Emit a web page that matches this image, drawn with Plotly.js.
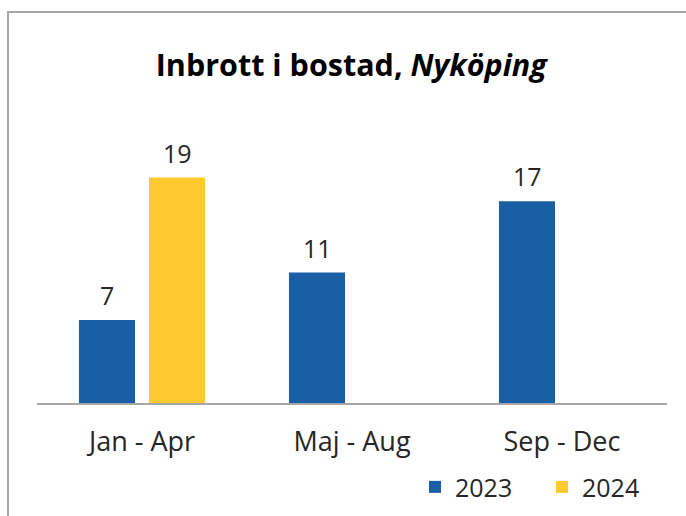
<!DOCTYPE html>
<html>
<head>
<meta charset="utf-8">
<script src="https://cdn.plot.ly/plotly-3.0.1.min.js"></script>
<style>
  html, body { margin: 0; padding: 0; background: #ffffff; }
  #wrap { position: relative; width: 686px; height: 516px; overflow: hidden; }
  #chart { width: 686px; height: 516px; }
  #frame { position: absolute; left: 7px; top: 11px; width: 700px; height: 540px;
           border: 2px solid #a6a6a6; pointer-events: none; box-sizing: border-box; }
</style>
</head>
<body>
<div id="wrap">
  <div id="chart"></div>
  <div id="frame"></div>
</div>
<script>
const categories = ["Jan - Apr", "Maj - Aug", "Sep - Dec"];
const seriesNames = ["2023", "2024"];
const values2023 = [7, 11, 17];
const values2024 = [19, null, null];
const seriesColors = ["#1a5fa5", "#ffca30"];

const allValues = [values2023, values2024];
const textColor = "#262626";
const fontFam = "'Open Sans', Lato, sans-serif";

const traces = allValues.map((vals, i) => ({
  type: "bar",
  name: seriesNames[i],
  x: categories,
  y: vals,
  marker: { color: seriesColors[i], line: { width: 0 } },
  hoverinfo: "skip"
}));

// data labels placed via axis scales
const offsets = [-35, 35];
const annotations = [];
allValues.forEach((vals, i) => {
  vals.forEach((v, j) => {
    if (v !== null && v !== undefined) {
      annotations.push({
        x: categories[j], y: v, xref: "x", yref: "y",
        text: String(v), showarrow: false,
        xshift: offsets[i], yshift: 6, yanchor: "bottom",
        font: { family: fontFam, size: 25, color: textColor }
      });
    }
  });
});

const layout = {
  width: 686, height: 516,
  margin: { l: 37, r: 19, t: 142, b: 113, autoexpand: false },
  paper_bgcolor: "#ffffff", plot_bgcolor: "#ffffff",
  title: {
    text: "<b>Inbrott i bostad, <i>Nyköping</i></b>",
    x: 0.512, xanchor: "center", y: 0.874, yanchor: "middle",
    font: { family: fontFam, size: 30.5, color: "#000000" }
  },
  barmode: "group",
  bargap: 0.333,
  bargroupgap: 0.2,
  xaxis: {
    type: "category", automargin: false,
    showline: true, linecolor: "#a6a6a6", linewidth: 2,
    ticks: "", showgrid: false, zeroline: false,
    tickfont: { family: fontFam, size: 27, color: textColor },
    ticklabelstandoff: 14
  },
  yaxis: {
    range: [0, 22], visible: false, showgrid: false, zeroline: false, automargin: false
  },
  showlegend: true,
  legend: {
    orientation: "h", x: 0.6, xanchor: "left",
    yref: "container", y: 0.056, yanchor: "middle",
    font: { family: fontFam, size: 25, color: textColor },
    entrywidth: 82, entrywidthmode: "pixels",
    itemclick: false, itemdoubleclick: false
  },
  annotations: annotations
};

Plotly.newPlot("chart", traces, layout, { displayModeBar: false, staticPlot: true });
</script>
</body>
</html>
